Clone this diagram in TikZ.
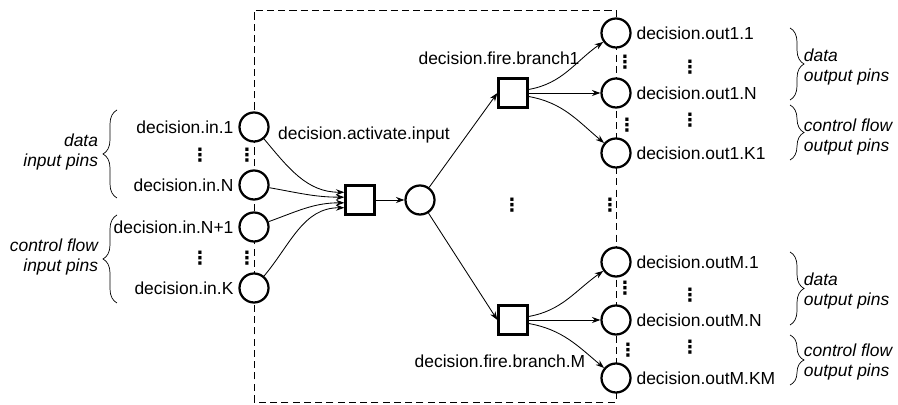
\documentclass[tikz,border=0pt]{standalone}
\usepackage{fontspec}
\setmainfont{Liberation Sans}
\newfontfamily\simboli{DejaVu Sans}
\usetikzlibrary{arrows.meta,decorations.pathreplacing}

\tikzset{
  pinnode/.style={circle,draw,line width=1.6pt,fill=white,minimum size=0.725cm,inner sep=0pt},
  actbox/.style={rectangle,draw,line width=1.6pt,fill=white,minimum size=0.725cm,inner sep=0pt},
  flow/.style={-{Stealth[length=6pt,width=4.3pt]},line width=0.6pt},
  lab/.style={font=\fontsize{12.4}{14.5}\selectfont},
  grp/.style={font=\fontsize{12.4}{14.5}\selectfont\itshape},
  punti/.style={inner sep=0pt,font=\fontsize{13}{13}\simboli\bfseries},
  pinbrace/.style={decorate,decoration={brace,amplitude=0.35cm},line width=0.5pt}
}

\begin{document}
\begin{tikzpicture}[x=0.025cm,y=0.025cm]
\useasboundingbox (0,0) rectangle (898,405);

% Riquadro tratteggiato
\draw[dash pattern=on 5pt off 3pt,line width=0.6pt] (254,3) rectangle (616,395);

% Pin di ingresso
\node[pinnode] (in1) at (254,278) {};
\node[pinnode] (inN) at (254,220) {};
\node[pinnode] (inN1) at (254,178) {};
\node[pinnode] (inK) at (254,117) {};
\node[lab,anchor=east] (lin1) at (in1.west) {decision.in.1};
\node[lab,anchor=east] (linN) at (inN.west) {decision.in.N};
\node[lab,anchor=east] (linN1) at (inN1.west) {decision.in.N+1};
\node[lab,anchor=east] (linK) at (inK.west) {decision.in.K};

% Transizioni
\node[actbox] (act) at (360,205) {};
\node[pinnode] (mid) at (420,205) {};
\node[actbox] (fire1) at (513,312) {};
\node[actbox] (fireM) at (513,85) {};
\node[lab] (lact) at (364,270) {decision.activate.input};
\node[lab] (lfire1) at (499,347) {decision.fire.branch1};
\node[lab] (lfireM) at (500,44) {decision.fire.branch.M};

% Pin di uscita
\node[pinnode] (out11) at (616,372) {};
\node[pinnode] (out1N) at (616,312) {};
\node[pinnode] (out1K) at (616,252) {};
\node[pinnode] (outM1) at (616,143) {};
\node[pinnode] (outMN) at (616,85) {};
\node[pinnode] (outMK) at (616,27) {};
\node[lab,anchor=west] (lout11) at (out11.east) {decision.out1.1};
\node[lab,anchor=west] (lout1N) at (out1N.east) {decision.out1.N};
\node[lab,anchor=west] (lout1K) at (out1K.east) {decision.out1.K1};
\node[lab,anchor=west] (loutM1) at (outM1.east) {decision.outM.1};
\node[lab,anchor=west] (loutMN) at (outMN.east) {decision.outM.N};
\node[lab,anchor=west] (loutMK) at (outMK.east) {decision.outM.KM};

% Archi
\draw[flow] (in1) to[out=-50,in=180] ([yshift=5.5pt]act.west);
\draw[flow] (inN) to[out=-10,in=180] ([yshift=2pt]act.west);
\draw[flow] (inN1) to[out=20,in=180] ([yshift=-2pt]act.west);
\draw[flow] (inK) to[out=50,in=180] ([yshift=-5.5pt]act.west);
\draw[flow] (act) -- (mid);
\draw[flow] (mid) -- (fire1.west);
\draw[flow] (mid) -- (fireM.west);
\draw[flow] ([yshift=2.5pt]fire1.east) to[out=10,in=215] (out11);
\draw[flow] (fire1) -- (out1N);
\draw[flow] ([yshift=-2.5pt]fire1.east) to[out=-10,in=140] (out1K);
\draw[flow] ([yshift=2.5pt]fireM.east) to[out=10,in=215] (outM1);
\draw[flow] (fireM) -- (outMN);
\draw[flow] ([yshift=-2.5pt]fireM.east) to[out=-10,in=140] (outMK);

% Puntini
\node[punti] (d1) at (200,250) {⋮};
\node[punti] (d2) at (247,250) {⋮};
\node[punti] (d3) at (200,147) {⋮};
\node[punti] (d4) at (247,147) {⋮};
\node[punti] (d5) at (512,200) {⋮};
\node[punti] (d6) at (610,200) {⋮};
\node[punti] (d7) at (625,343) {⋮};
\node[punti] (d8) at (690,338) {⋮};
\node[punti] (d9) at (627,280) {⋮};
\node[punti] (d10) at (690,285) {⋮};
\node[punti] (d11) at (625,117) {⋮};
\node[punti] (d12) at (690,110) {⋮};
\node[punti] (d13) at (628,55) {⋮};
\node[punti] (d14) at (690,58) {⋮};

% Parentesi e gruppi
\draw[pinbrace] (117,207) -- (117,295);
\draw[pinbrace] (117,102) -- (117,190);
\draw[pinbrace] (790,377) -- (790,305);
\draw[pinbrace] (790,300) -- (790,245);
\draw[pinbrace] (790,153) -- (790,80);
\draw[pinbrace] (790,70) -- (790,20);
\node[grp,align=right,anchor=east] (gdin) at (103,253) {data\\input pins};
\node[grp,align=right,anchor=east] (gcin) at (103,148) {control flow\\input pins};
\node[grp,align=left,anchor=west] (gdout1) at (799,338) {data\\output pins};
\node[grp,align=left,anchor=west] (gcout1) at (799,268) {control flow\\output pins};
\node[grp,align=left,anchor=west] (gdoutM) at (799,114) {data\\output pins};
\node[grp,align=left,anchor=west] (gcoutM) at (799,43) {control flow\\output pins};
\end{tikzpicture}
\end{document}
